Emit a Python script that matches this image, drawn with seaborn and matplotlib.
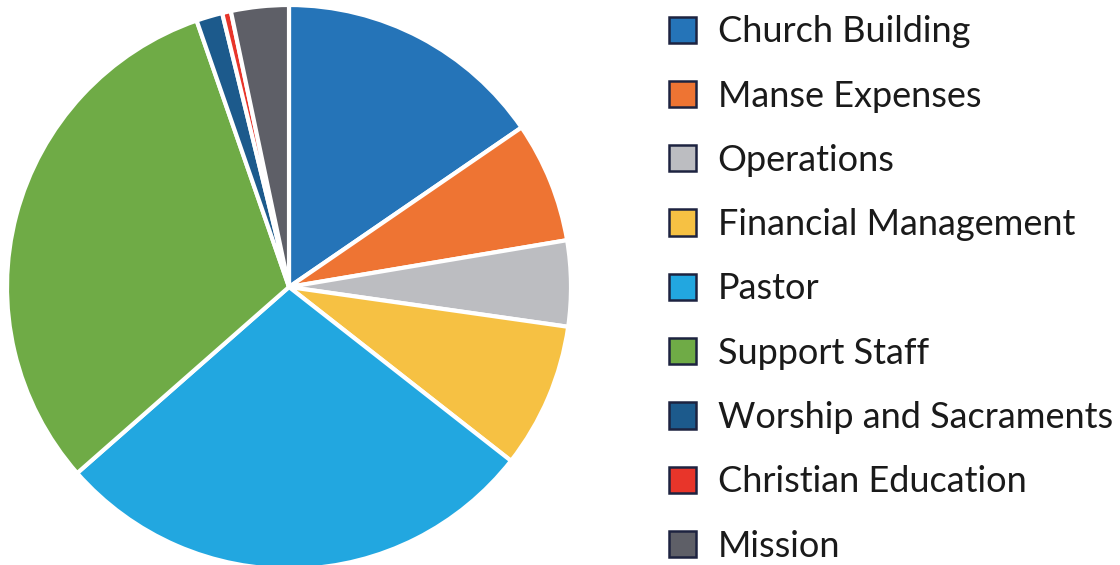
import matplotlib
matplotlib.use("Agg")
import matplotlib.pyplot as plt
from matplotlib.patches import Patch
import seaborn as sns

categories = ["Church Building", "Manse Expenses", "Operations", "Financial Management",
              "Pastor", "Support Staff", "Worship and Sacraments", "Christian Education", "Mission"]
values = [15.4, 6.9, 4.9, 8.3, 27.9, 31.1, 1.5, 0.5, 3.3]
colors = ["#2574b8", "#ee7433", "#bcbdc1", "#f6c143", "#22a7e0", "#6fab46", "#1c5a8c", "#e8352a", "#5e5f67"]

sns.set_theme(style="white")
plt.rcParams['font.family'] = ['Lato', 'DejaVu Sans']
palette = sns.color_palette(colors)

fig = plt.figure(figsize=(11.2, 5.65), dpi=100)
W, H = 1120, 565
cx, cy, r = 289, 287, 282
ax = fig.add_axes([(cx - r) / W, (H - (cy + r)) / H, 2 * r / W, 2 * r / H])
ax.pie(values, colors=palette, startangle=90, counterclock=False, radius=1,
       wedgeprops=dict(edgecolor="white", linewidth=3))
ax.set_xlim(-1, 1)
ax.set_ylim(-1, 1)
ax.set_aspect("auto")
ax.axis("off")

handles = [Patch(facecolor=c, edgecolor="#1d2340", linewidth=1.8) for c in palette]
fig.legend(handles, categories, loc="upper left", bbox_to_anchor=(662 / W, 1 - 8 / H),
           frameon=False, fontsize=26, handlelength=0.74, handleheight=0.74,
           handletextpad=0.6, labelspacing=0.867, borderaxespad=0, borderpad=0.2,
           labelcolor="#1a1a1a")

fig.savefig("out.png", dpi=100, facecolor="white")
